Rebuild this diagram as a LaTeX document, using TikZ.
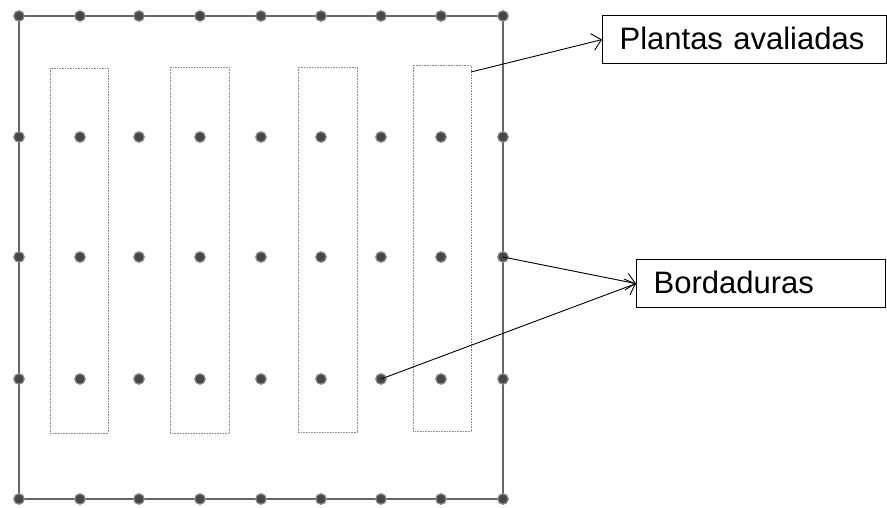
\documentclass[tikz,border=0pt]{standalone}
\usepackage{fontspec}
\setmainfont{Liberation Sans}
\usetikzlibrary{arrows.meta}
\tikzset{
  plant/.style={circle, fill=black!72, draw=black!45, line width=1.2pt, inner sep=0pt, minimum size=10.5pt},
  border/.style={draw=black!60, line width=1.6pt},
  plot/.style={draw=black!45, line width=0.6pt, densely dotted},
  label/.style={draw=black, line width=1.2pt, font=\fontsize{31}{36}\selectfont, anchor=north west,
    inner xsep=17pt, inner ysep=0pt, text height=22pt, text depth=2pt, minimum height=48pt, align=left},
  conn/.style={draw=black, line width=0.9pt, -{Straight Barb[length=9pt,width=17pt,line width=0.9pt]}}
}
\begin{document}
\begin{tikzpicture}[x=1pt,y=-1pt]
\useasboundingbox (0,0) rectangle (887,508);
% outer square
\draw[border] (19,16) rectangle (503,499);
% plots of evaluated plants
\draw[plot] (50,68) rectangle (108,433);
\draw[plot] (170,67) rectangle (229,433);
\draw[plot] (298,67) rectangle (357,432);
\draw[plot] (413,65) rectangle (471,431);
% plants
\foreach \x [count=\i] in {19,80,139,200,261,321,381,441,503}{
  \foreach \y [count=\j] in {16,137,257,379,499}{
    \node[plant] (p\i-\j) at (\x,\y) {};
  }
}
% labels
\node[label, text width=250pt] (pa) at (602,15) {Plantas avaliadas};
\node[label, text width=215pt] (bo) at (636,259) {Bordaduras};
\coordinate (pastart) at (471,72);
\draw[conn] (pastart) -- (pa.west);
\draw[conn] (p9-3.center) -- (bo.west);
\draw[conn] (p7-4.center) -- (bo.west);
\end{tikzpicture}
\end{document}
